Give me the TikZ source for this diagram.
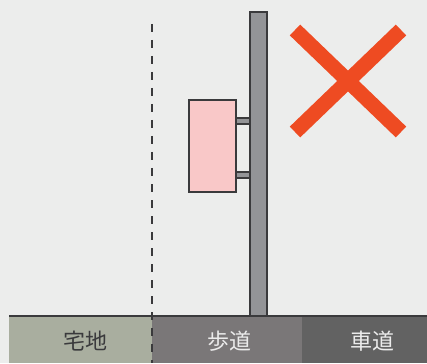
\documentclass[tikz,border=0pt]{standalone}
\usepackage{fontspec}
\newfontfamily\cjk{Noto Sans CJK JP}
\definecolor{bg}{HTML}{ECEDEC}
\definecolor{takuchi}{HTML}{A9AE9F}
\definecolor{hodo}{HTML}{7A7778}
\definecolor{shado}{HTML}{626262}
\definecolor{polefill}{HTML}{939497}
\definecolor{edge}{HTML}{3A3A3C}
\definecolor{signfill}{HTML}{F9C8C8}
\definecolor{cross}{HTML}{EE4B22}
\tikzset{
  lbl/.style={font=\cjk\fontsize{22}{22}\selectfont, inner sep=0pt},
  partbox/.style={draw=edge, line width=1.2pt, inner sep=0pt, outer sep=0pt},
}
\begin{document}
\begin{tikzpicture}[x=1pt,y=-1pt]
\useasboundingbox (0,0) rectangle (427,363);
\fill[bg] (0,0) rectangle (427,363);
% ground bands
\fill[takuchi] (9,316) rectangle (152,363);
\fill[hodo] (152,316) rectangle (302,363);
\fill[shado] (302,316) rectangle (427,363);
\draw[edge, line width=1.2pt] (9,316) -- (427,316);
% dashed boundary
\coordinate (d1) at (152,24);
\coordinate (d2) at (152,363);
\draw[edge, line width=1.1pt, dash pattern=on 8pt off 8pt] (d1) -- (d2);
% pole
\node[partbox, fill=polefill, minimum width=17pt, minimum height=304pt] (pole) at (258.5,164) {};
% brackets
\node[partbox, fill=polefill, minimum width=14pt, minimum height=6pt] (b1) at (243,121) {};
\node[partbox, fill=polefill, minimum width=14pt, minimum height=6pt] (b2) at (243,175) {};
% sign
\node[partbox, fill=signfill, minimum width=47pt, minimum height=92pt] (sign) at (212.5,146) {};
% cross
\coordinate (c1) at (295,30);
\coordinate (c2) at (401,132);
\coordinate (c3) at (401,30);
\coordinate (c4) at (295,132);
\draw[cross, line width=15pt] (c1) -- (c2);
\draw[cross, line width=15pt] (c3) -- (c4);
% labels
\node[lbl, text=edge] (t1) at (85,341) {宅地};
\node[lbl, text=white!92!black] (t2) at (229,341) {歩道};
\node[lbl, text=white!92!black] (t3) at (372,341) {車道};
\end{tikzpicture}
\end{document}
